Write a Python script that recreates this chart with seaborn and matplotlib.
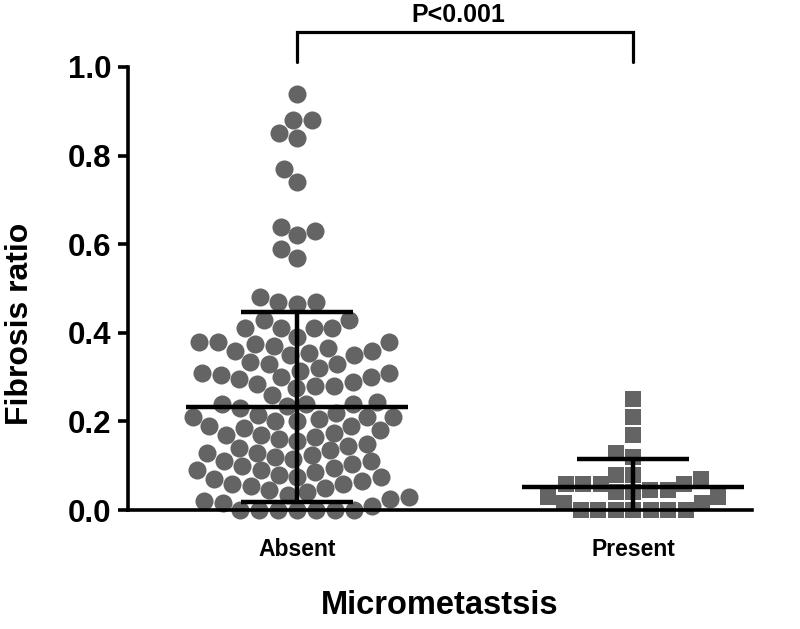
import matplotlib
matplotlib.use("Agg")
import matplotlib.pyplot as plt
import seaborn as sns
import pandas as pd
import numpy as np

# ---- data ----
categories = ["Absent", "Present"]

absent_values = [
    0.94, 0.88, 0.88, 0.85, 0.84, 0.77, 0.74, 0.64, 0.63, 0.62, 0.59, 0.57,
    0.48, 0.47, 0.47, 0.465, 0.43, 0.43,
    0.41, 0.41, 0.41, 0.41, 0.39, 0.38, 0.38, 0.38, 0.375, 0.37, 0.365, 0.36,
    0.36, 0.355, 0.35, 0.35,
    0.335, 0.33, 0.33, 0.32, 0.315, 0.31, 0.31, 0.305, 0.30, 0.30, 0.295,
    0.29, 0.285, 0.28, 0.28, 0.275,
    0.26, 0.245, 0.24, 0.24, 0.24, 0.235, 0.23, 0.22, 0.215, 0.21, 0.21,
    0.21, 0.205,
    0.20, 0.20, 0.19, 0.19, 0.185, 0.18, 0.175, 0.17, 0.17, 0.165, 0.16,
    0.155, 0.15, 0.145, 0.14, 0.135, 0.13, 0.13,
    0.125, 0.12, 0.115, 0.11, 0.11, 0.105, 0.10, 0.095, 0.09, 0.09, 0.085,
    0.08, 0.075, 0.075, 0.07, 0.065, 0.06, 0.06,
    0.055, 0.05, 0.045, 0.04, 0.035, 0.03, 0.025, 0.02, 0.015, 0.01,
    0.0, 0.0, 0.0, 0.0, 0.0, 0.0, 0.0,
]

present_values = [
    0.25, 0.21, 0.17, 0.13, 0.12, 0.08, 0.08, 0.07, 0.045, 0.045,
    0.06, 0.06, 0.06, 0.06, 0.04, 0.04, 0.03, 0.03, 0.015, 0.015,
    0.0, 0.0, 0.0, 0.0, 0.0, 0.0, 0.0,
]

group_means = [0.233, 0.052]
group_sds = [0.214, 0.064]

y_ticks = [0.0, 0.2, 0.4, 0.6, 0.8, 1.0]
y_tick_labels = ["0.0", "0.2", "0.4", "0.6", "0.8", "1.0"]
p_label = "P<0.001"
x_title = "Micrometastsis"
y_title = "Fibrosis ratio"

# ---- build table ----
df = pd.DataFrame({
    "group": ["Absent"] * len(absent_values) + ["Present"] * len(present_values),
    "value": absent_values + present_values,
})

sns.set_style("ticks")
plt.rcParams["font.family"] = ["Liberation Sans", "DejaVu Sans"]
plt.rcParams["font.weight"] = "bold"
plt.rcParams["text.color"] = "black"
plt.rcParams["axes.labelcolor"] = "black"

fig = plt.figure(figsize=(8, 6.29), dpi=100)
ax = fig.add_axes([0.16, 0.189, 0.78, 0.7045])

point_color = "#646464"
sns.swarmplot(data=df[df.group == "Absent"], x="group", y="value", order=categories,
              marker="o", size=13, color=point_color, linewidth=0, ax=ax, zorder=2)
sns.swarmplot(data=df[df.group == "Present"], x="group", y="value", order=categories,
              marker="s", size=12, color=point_color, linewidth=0, ax=ax, zorder=2)
for coll in ax.collections:
    coll.set_clip_on(False)

# mean +/- SD
xpos = np.arange(len(categories))
ax.errorbar(xpos, group_means, yerr=group_sds, fmt="none", ecolor="black",
            elinewidth=3.2, capsize=40, capthick=3.2, zorder=4)
ax.hlines(group_means, xpos - 0.33, xpos + 0.33, colors="black", linewidth=3.2, zorder=4)

ax.set_xlim(-0.503, 1.354)
ax.set_ylim(0, 1.0)
ax.set_yticks(y_ticks)
ax.set_yticklabels(y_tick_labels, fontsize=22.5, fontweight="bold")
ax.set_xticks(xpos)
ax.set_xticklabels(categories, fontsize=16.5, fontweight="bold")

for side in ["top", "right"]:
    ax.spines[side].set_visible(False)
for side in ["left", "bottom"]:
    ax.spines[side].set_linewidth(2.6)
    ax.spines[side].set_color("black")
ax.tick_params(axis="y", length=7, width=2.6, pad=5, colors="black")
ax.tick_params(axis="x", length=4, width=2.0, pad=16, colors="black")

ax.set_xlabel(x_title, fontsize=23.5, fontweight="bold", color="black")
ax.set_ylabel(y_title, fontsize=23, fontweight="bold", color="black")
ax.yaxis.set_label_coords(-0.149, 0.42)
ax.xaxis.set_label_coords(0.5, -0.18)

# significance bracket
ax.plot([0, 0, 1, 1], [1.011, 1.079, 1.079, 1.011], color="black", linewidth=2.3,
        clip_on=False, solid_joinstyle="miter")
ax.text(0.48, 1.09, p_label, ha="center", va="bottom", fontsize=18,
        fontweight="bold", color="black")

fig.savefig("out.png", dpi=100, facecolor="white")
